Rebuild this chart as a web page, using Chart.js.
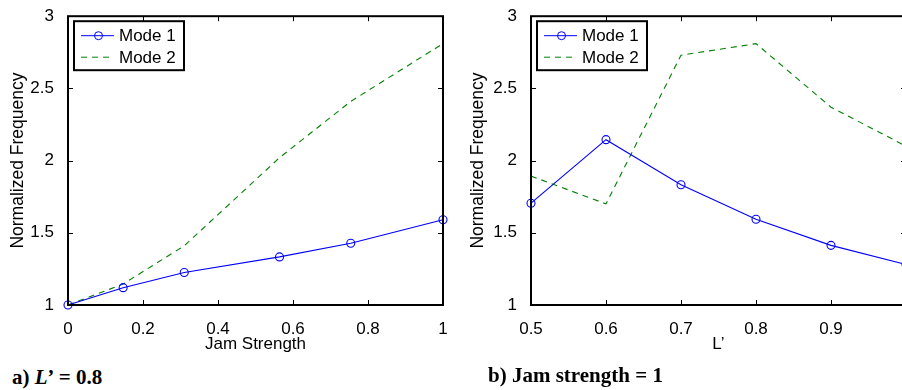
<!DOCTYPE html>
<html>
<head>
<meta charset="utf-8">
<script src="https://cdn.jsdelivr.net/npm/chart.js@4.4.1/dist/chart.umd.min.js"></script>
<style>
  html, body { margin:0; padding:0; background:#fff; overflow:hidden; width:902px; height:390px; }
  .wrap { position:absolute; top:0; }
  .cap { position:absolute; font-family:"Liberation Serif", "Times New Roman", serif; font-weight:bold; font-size:21px; line-height:21px; white-space:nowrap; color:#000; }
</style>
</head>
<body>
<div class="wrap" style="left:0px;width:460px;height:360px;"><canvas id="c1" width="460" height="360"></canvas></div>
<div class="wrap" style="left:450px;width:470px;height:360px;"><canvas id="c2" width="470" height="360"></canvas></div>
<div class="cap" style="left:12px;top:367px;">a) <i>L’</i> = 0.8</div>
<div class="cap" style="left:488px;top:365px;">b) Jam strength = 1</div>
<script>
// ---- data ----
const jamStrength = [0, 0.147, 0.31, 0.564, 0.754, 1];
const leftMode1   = [1.0, 1.12, 1.225, 1.333, 1.428, 1.59];
const leftMode2   = [1.0, 1.145, 1.41, 2.02, 2.41, 2.81];

const lPrime      = [0.5, 0.6, 0.7, 0.8, 0.9, 1.0];
const rightMode1  = [1.705, 2.145, 1.833, 1.594, 1.413, 1.28];
const rightMode2  = [1.893, 1.70, 2.73, 2.81, 2.37, 2.10];

const seriesNames = ["Mode 1", "Mode 2"];
const yTicks = [1, 1.5, 2, 2.5, 3];
const leftXTicks = [0, 0.2, 0.4, 0.6, 0.8, 1];
const rightXTicks = [0.5, 0.6, 0.7, 0.8, 0.9, 1.0];

const BLUE = "#0000ff", GREEN = "#008000";
const FONT = "'Liberation Sans', Arial, Helvetica, sans-serif";
const DASH = [6, 5];

function pts(xs, ys) { return xs.map((x, i) => ({x: x, y: ys[i]})); }

const boxPlugin = {
  id: 'matlabBox',
  afterDatasetsDraw(chart) {
    const ctx = chart.ctx, a = chart.chartArea;
    const xs = chart.scales.x, ys = chart.scales.y;
    ctx.save();
    ctx.strokeStyle = '#000';
    ctx.lineWidth = 1;
    const tl = 5;
    ctx.beginPath();
    xs.ticks.forEach(t => {
      const px = Math.round(xs.getPixelForValue(t.value)) + 0.5;
      ctx.moveTo(px, a.bottom); ctx.lineTo(px, a.bottom - tl);
      ctx.moveTo(px, a.top); ctx.lineTo(px, a.top + tl);
    });
    ys.ticks.forEach(t => {
      const py = Math.round(ys.getPixelForValue(t.value)) + 0.5;
      ctx.moveTo(a.left, py); ctx.lineTo(a.left + tl, py);
      ctx.moveTo(a.right, py); ctx.lineTo(a.right - tl, py);
    });
    ctx.stroke();
    ctx.lineWidth = 2;
    ctx.strokeRect(a.left, a.top, a.right - a.left, a.bottom - a.top);
    // legend
    const bx = a.left + 6, by = a.top + 5, bw = 110, bh = 49;
    ctx.fillStyle = '#fff';
    ctx.fillRect(bx, by, bw, bh);
    ctx.lineWidth = 2;
    ctx.strokeRect(bx, by, bw, bh);
    const rows = [by + 14.5, by + 36];
    ctx.lineWidth = 1;
    ctx.strokeStyle = BLUE;
    ctx.beginPath(); ctx.moveTo(bx + 7, rows[0]); ctx.lineTo(bx + 40, rows[0]); ctx.stroke();
    ctx.beginPath(); ctx.arc(bx + 24.5, rows[0], 4, 0, Math.PI * 2); ctx.stroke();
    ctx.strokeStyle = GREEN;
    ctx.setLineDash(DASH);
    ctx.beginPath(); ctx.moveTo(bx + 7, rows[1]); ctx.lineTo(bx + 40, rows[1]); ctx.stroke();
    ctx.setLineDash([]);
    ctx.fillStyle = '#000';
    ctx.font = "17px " + FONT;
    ctx.textBaseline = 'middle';
    ctx.textAlign = 'left';
    ctx.fillText(seriesNames[0], bx + 45, rows[0] + 1);
    ctx.fillText(seriesNames[1], bx + 45, rows[1] + 1);
    ctx.restore();
  }
};

function makeChart(id, xs, m1, m2, xTicks, xMin, xMax, xTitle, yAxisW, yTitlePad, padRight) {
  return new Chart(document.getElementById(id), {
    type: 'line',
    data: {
      datasets: [
        { label: seriesNames[0], data: pts(xs, m1), borderColor: BLUE, borderWidth: 1.1,
          pointStyle: 'circle', pointRadius: 4, pointBorderWidth: 1.1, pointBackgroundColor: 'rgba(0,0,0,0)',
          pointBorderColor: BLUE, tension: 0, fill: false, clip: 8 },
        { label: seriesNames[1], data: pts(xs, m2), borderColor: GREEN, borderWidth: 1.1,
          borderDash: DASH, pointRadius: 0, tension: 0, fill: false }
      ]
    },
    options: {
      responsive: false, animation: false, devicePixelRatio: 1,
      layout: { padding: { top: 14, right: padRight, left: 0, bottom: 0 } },
      plugins: { legend: { display: false }, tooltip: { enabled: false } },
      scales: {
        x: {
          type: 'linear', min: xMin, max: xMax,
          grid: { display: false }, border: { display: false },
          afterBuildTicks: s => { s.ticks = xTicks.map(v => ({value: v})); },
          ticks: { color: '#000', font: { family: FONT, size: 17 }, padding: 6,
                   callback: v => String(v), maxRotation: 0, autoSkip: false },
          title: { display: true, text: xTitle, color: '#000', font: { family: FONT, size: 17 }, padding: { top: 0, bottom: 5 } },
          afterFit: s => { s.height = 55; }
        },
        y: {
          type: 'linear', min: 1, max: 3,
          grid: { display: false }, border: { display: false },
          afterBuildTicks: s => { s.ticks = yTicks.map(v => ({value: v})); },
          ticks: { color: '#000', font: { family: FONT, size: 17 }, padding: 6, callback: v => String(v) },
          title: { display: true, text: 'Normalized Frequency', color: '#000', font: { family: FONT, size: 17.5 }, padding: { top: yTitlePad, bottom: 0 } },
          afterFit: s => { s.width = yAxisW; }
        }
      }
    },
    plugins: [boxPlugin]
  });
}

makeChart('c1', jamStrength, leftMode1, leftMode2, leftXTicks, 0, 1, 'Jam Strength', 68, 8, 17);
makeChart('c2', lPrime, rightMode1, rightMode2, rightXTicks, 0.5, 1.0, 'L’', 81, 18, 14);
</script>
</body>
</html>
